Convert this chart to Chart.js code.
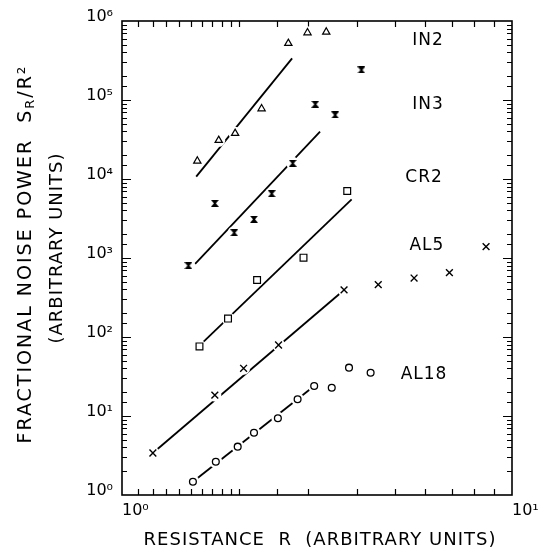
<!DOCTYPE html>
<html><head><meta charset="utf-8">
<script src="https://cdn.jsdelivr.net/npm/chart.js@4"></script>
<style>html,body{margin:0;padding:0;background:#fff}#wrap{width:539px;height:548px;position:relative}</style>
</head><body><div id="wrap"><canvas id="c" width="539" height="548"></canvas></div>
<script>
// ---- data ----
const in2R = [1.56, 1.77, 1.95, 2.28, 2.67, 2.99, 3.34];
const in2S = [16900, 30900, 37900, 77600, 522000, 711000, 726000];
const in2FitR = [1.55, 2.73];
const in2FitS = [10700, 337000];

const in3R = [1.48, 1.73, 1.94, 2.18, 2.42, 2.74, 3.13, 3.52, 4.11];
const in3S = [800, 4920, 2090, 3090, 6510, 15800, 88200, 64600, 240000];
const in3FitR = [1.54, 3.22];
const in3FitS = [840, 39700];

const cr2R = [1.58, 1.87, 2.22, 2.92, 3.78];
const cr2S = [76, 171, 527, 1010, 7050];
const cr2FitR = [1.58, 3.88];
const cr2FitS = [78, 5530];

const al5R = [1.20, 1.73, 2.05, 2.52, 3.71, 4.54, 5.61, 6.91, 8.58];
const al5S = [3.4, 18.4, 40.2, 79.2, 394, 459, 558, 652, 1390];
const al5FitR = [1.20, 3.71];
const al5FitS = [3.4, 394];

const al18R = [1.52, 1.74, 1.98, 2.18, 2.51, 2.82, 3.11, 3.45, 3.82, 4.34];
const al18S = [1.47, 2.64, 4.09, 6.15, 9.35, 16.3, 24.0, 22.8, 40.9, 35.3];
const al18FitR = [1.52, 3.11];
const al18FitS = [1.47, 24.0];

const seriesNames = ['IN2', 'IN3', 'CR2', 'AL5', 'AL18'];
const nameR = [6.09, 6.09, 5.95, 6.05, 5.95];
const nameS = [558000, 86500, 10300, 1419, 33.0];

const xTickValues = [1, 10];
const xTickLabels = ['10\u2070', '10\u00B9'];
const yTickValues = [1, 10, 100, 1000, 10000, 100000, 1000000];
const yTickLabels = ['10\u2070', '10\u00B9', '10\u00B2', '10\u00B3', '10\u2074', '10\u2075', '10\u2076'];

const xTitle = 'RESISTANCE  R  (ARBITRARY UNITS)';
const yTitle1a = 'FRACTIONAL NOISE POWER  S';
const yTitle1sub = 'R';
const yTitle1b = '/R\u00B2';
const yTitle2 = '(ARBITRARY UNITS)';

// ---- helpers ----
const FONT = '"DejaVu Sans", sans-serif';
const zip = (xs, ys) => xs.map((x, i) => ({x: x, y: ys[i]}));
function hourglass(w, h) {
  const c = document.createElement('canvas'); c.width = w; c.height = h;
  const g = c.getContext('2d'); g.fillStyle = '#000';
  g.beginPath(); g.moveTo(0, 0); g.lineTo(w, 0); g.lineTo(w / 2 + 1, h / 2);
  g.lineTo(w, h); g.lineTo(0, h); g.lineTo(w / 2 - 1, h / 2); g.closePath(); g.fill();
  return c;
}
const labelFor = (vals, labs) => v => {
  const i = vals.findIndex(t => Math.abs(t - v) / t < 1e-6);
  return i >= 0 ? labs[i] : '';
};
const markerBase = {showLine: false, borderColor: '#000', backgroundColor: '#fff', borderWidth: 1.2};
const haloBase = {showLine: false, pointStyle: 'circle', pointRadius: 6.5, borderWidth: 0, backgroundColor: '#fff', borderColor: '#fff'};
const lineBase = {showLine: true, pointRadius: 0, borderColor: '#000', borderWidth: 1.8, fill: false};

const framePlugin = {
  id: 'frame',
  beforeDatasetsDraw(chart) {
    const {ctx, chartArea: a, scales} = chart;
    ctx.save();
    ctx.strokeStyle = '#000'; ctx.lineWidth = 1.6;
    ctx.strokeRect(a.left, a.top, a.right - a.left, a.bottom - a.top);
    ctx.lineWidth = 1.2;
    ctx.beginPath();
    scales.y.ticks.forEach(t => {
      const p = Math.round(scales.y.getPixelForValue(t.value)) + 0.5;
      if (p <= a.top + 1 || p >= a.bottom - 1) return;
      const lg = Math.log10(t.value);
      const len = Math.abs(lg - Math.round(lg)) < 1e-9 ? 9 : 5;
      ctx.moveTo(a.left, p); ctx.lineTo(a.left + len, p);
      ctx.moveTo(a.right, p); ctx.lineTo(a.right - len, p);
    });
    scales.x.ticks.forEach(t => {
      const p = Math.round(scales.x.getPixelForValue(t.value)) + 0.5;
      if (p <= a.left + 1 || p >= a.right - 1) return;
      ctx.moveTo(p, a.bottom); ctx.lineTo(p, a.bottom - 6);
      ctx.moveTo(p, a.top); ctx.lineTo(p, a.top + 6);
    });
    ctx.stroke();
    ctx.restore();
  },
  afterDatasetsDraw(chart) {
    const {ctx, scales} = chart;
    ctx.save();
    ctx.fillStyle = '#000';
    ctx.font = '17px ' + FONT; ctx.textAlign = 'center'; ctx.textBaseline = 'middle';
    try { ctx.letterSpacing = '1px'; } catch (e) {}
    seriesNames.forEach((n, i) => {
      ctx.fillText(n, scales.x.getPixelForValue(nameR[i]), scales.y.getPixelForValue(nameS[i]));
    });
    ctx.font = '18px ' + FONT;
    ctx.fillText(xTitle, 320, 540);
    // y title line 1 (with subscript)
    ctx.save();
    try { ctx.letterSpacing = '2px'; } catch (e) {}
    ctx.translate(26, 254); ctx.rotate(-Math.PI / 2);
    ctx.textAlign = 'left';
    ctx.font = '19px ' + FONT; const w1 = ctx.measureText(yTitle1a).width;
    const w3 = ctx.measureText(yTitle1b).width;
    ctx.font = '13px ' + FONT; const w2 = ctx.measureText(yTitle1sub).width;
    let x0 = -(w1 + w2 + w3) / 2;
    ctx.font = '19px ' + FONT; ctx.fillText(yTitle1a, x0, 0); x0 += w1;
    ctx.font = '13px ' + FONT; ctx.fillText(yTitle1sub, x0, 5); x0 += w2;
    ctx.font = '19px ' + FONT; ctx.fillText(yTitle1b, x0, 0);
    ctx.restore();
    // y title line 2
    ctx.save();
    ctx.translate(57, 248); ctx.rotate(-Math.PI / 2);
    ctx.textAlign = 'center'; ctx.font = '18px ' + FONT;
    ctx.fillText(yTitle2, 0, 0);
    ctx.restore();
    ctx.restore();
  }
};

const hg = hourglass(8, 7);
new Chart(document.getElementById('c'), {
  type: 'scatter',
  data: {
    datasets: [
      Object.assign({}, markerBase, {label: 'IN2', data: zip(in2R, in2S), pointStyle: 'triangle', pointRadius: 4.2}),
      Object.assign({}, markerBase, {label: 'IN3', data: zip(in3R, in3S), pointStyle: hg, pointRadius: 4}),
      Object.assign({}, markerBase, {label: 'CR2', data: zip(cr2R, cr2S), pointStyle: 'rect', pointRadius: 4.8}),
      Object.assign({}, markerBase, {label: 'AL5', data: zip(al5R, al5S), pointStyle: 'crossRot', pointRadius: 4.8, borderWidth: 1.4}),
      Object.assign({}, markerBase, {label: 'AL18', data: zip(al18R, al18S), pointStyle: 'circle', pointRadius: 3.4, borderWidth: 1.3}),
      Object.assign({}, haloBase, {label: 'IN2 gap', data: zip(in2R, in2S)}),
      Object.assign({}, haloBase, {label: 'IN3 gap', data: zip(in3R, in3S)}),
      Object.assign({}, haloBase, {label: 'CR2 gap', data: zip(cr2R, cr2S)}),
      Object.assign({}, haloBase, {label: 'AL5 gap', data: zip(al5R, al5S)}),
      Object.assign({}, haloBase, {label: 'AL18 gap', data: zip(al18R, al18S)}),
      Object.assign({}, lineBase, {label: 'IN2 fit', data: zip(in2FitR, in2FitS)}),
      Object.assign({}, lineBase, {label: 'IN3 fit', data: zip(in3FitR, in3FitS)}),
      Object.assign({}, lineBase, {label: 'CR2 fit', data: zip(cr2FitR, cr2FitS)}),
      Object.assign({}, lineBase, {label: 'AL5 fit', data: zip(al5FitR, al5FitS)}),
      Object.assign({}, lineBase, {label: 'AL18 fit', data: zip(al18FitR, al18FitS)})
    ]
  },
  options: {
    responsive: false, animation: false, devicePixelRatio: 1,
    layout: {padding: {left: 0, right: 27, top: 21, bottom: 0}},
    plugins: {legend: {display: false}, tooltip: {enabled: false}},
    scales: {
      x: {
        type: 'logarithmic', min: 1, max: 10, position: 'bottom',
        grid: {display: false, drawTicks: false}, border: {display: false},
        ticks: {autoSkip: false, maxRotation: 0, align: 'start', padding: 6, color: '#000',
          font: {family: FONT, size: 16}, callback: labelFor(xTickValues, xTickLabels)},
        afterFit(s) { s.height = 53; s.paddingLeft = 0; s.paddingRight = 0; }
      },
      y: {
        type: 'logarithmic', min: 1, max: 1000000, position: 'left',
        grid: {display: false, drawTicks: false}, border: {display: false},
        ticks: {autoSkip: false, padding: 9, labelOffset: -4, color: '#000',
          font: {family: FONT, size: 16}, callback: labelFor(yTickValues, yTickLabels)},
        afterFit(s) { s.width = 122; s.paddingTop = 0; s.paddingBottom = 0; }
      }
    }
  },
  plugins: [framePlugin]
});
</script></body></html>
